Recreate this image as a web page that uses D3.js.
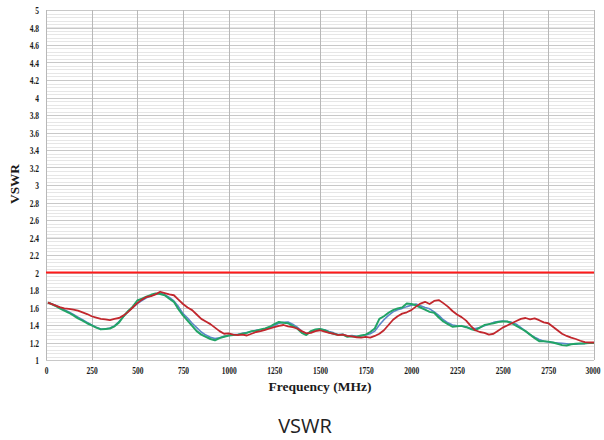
<!DOCTYPE html>
<html><head><meta charset="utf-8">
<script src="https://cdn.jsdelivr.net/npm/d3@7/dist/d3.min.js"></script>
<style>body{margin:0;background:#fff}svg{display:block}
.serif{font-family:"Liberation Serif","DejaVu Serif",serif;font-weight:bold}</style>
</head><body>
<script>
const freq = [10,25,50,75,100,125,150,175,200,225,250,275,300,325,350,375,400,425,450,475,500,525,550,575,600,625,650,675,700,725,750,775,800,825,850,875,900,925,950,975,1000,1025,1050,1075,1100,1125,1150,1175,1200,1225,1250,1275,1300,1325,1350,1375,1400,1425,1450,1475,1500,1525,1550,1575,1600,1625,1650,1675,1700,1725,1750,1775,1800,1825,1850,1875,1900,1925,1950,1975,2000,2025,2050,2075,2100,2125,2150,2175,2200,2225,2250,2275,2300,2325,2350,2375,2400,2425,2450,2475,2500,2525,2550,2575,2600,2625,2650,2675,2700,2725,2750,2775,2800,2825,2850,2875,2900,2925,2950,2975,3000];
const redSeries = [1.655,1.645,1.625,1.605,1.59,1.585,1.575,1.565,1.545,1.525,1.50,1.485,1.47,1.465,1.455,1.47,1.48,1.51,1.55,1.60,1.65,1.69,1.72,1.73,1.75,1.78,1.765,1.75,1.74,1.69,1.64,1.60,1.57,1.52,1.47,1.44,1.41,1.37,1.33,1.30,1.305,1.29,1.285,1.29,1.28,1.30,1.32,1.33,1.345,1.36,1.375,1.39,1.40,1.385,1.375,1.36,1.33,1.305,1.31,1.33,1.34,1.325,1.31,1.30,1.285,1.29,1.275,1.27,1.26,1.255,1.265,1.255,1.275,1.30,1.34,1.40,1.46,1.50,1.53,1.545,1.57,1.61,1.645,1.665,1.64,1.675,1.685,1.65,1.61,1.56,1.52,1.49,1.45,1.39,1.34,1.32,1.31,1.29,1.30,1.335,1.37,1.395,1.42,1.445,1.47,1.48,1.465,1.475,1.455,1.43,1.42,1.38,1.34,1.30,1.275,1.255,1.24,1.22,1.205,1.20,1.20];
const blueSeries = [1.655,1.645,1.625,1.60,1.575,1.55,1.52,1.49,1.46,1.43,1.40,1.375,1.355,1.355,1.365,1.39,1.44,1.50,1.555,1.60,1.645,1.68,1.71,1.735,1.755,1.765,1.745,1.715,1.675,1.61,1.53,1.48,1.42,1.37,1.32,1.285,1.26,1.245,1.255,1.27,1.28,1.29,1.29,1.305,1.315,1.325,1.34,1.345,1.355,1.37,1.395,1.42,1.43,1.435,1.41,1.375,1.33,1.30,1.32,1.345,1.35,1.345,1.325,1.31,1.29,1.295,1.275,1.28,1.27,1.275,1.285,1.30,1.33,1.40,1.46,1.51,1.55,1.575,1.59,1.61,1.625,1.64,1.62,1.60,1.585,1.55,1.51,1.46,1.425,1.40,1.39,1.385,1.38,1.36,1.36,1.37,1.39,1.41,1.43,1.44,1.445,1.44,1.43,1.41,1.37,1.33,1.29,1.26,1.235,1.215,1.205,1.20,1.195,1.19,1.185,1.18,1.18,1.185,1.19,1.195,1.195];
const greenSeries = [1.655,1.645,1.62,1.59,1.565,1.54,1.51,1.475,1.45,1.42,1.395,1.37,1.35,1.355,1.36,1.385,1.43,1.50,1.56,1.61,1.68,1.70,1.725,1.745,1.76,1.755,1.74,1.70,1.665,1.58,1.51,1.45,1.39,1.33,1.29,1.265,1.24,1.225,1.25,1.265,1.28,1.285,1.29,1.30,1.31,1.33,1.335,1.35,1.36,1.38,1.41,1.435,1.425,1.42,1.39,1.36,1.31,1.285,1.33,1.35,1.355,1.34,1.315,1.30,1.285,1.29,1.265,1.27,1.265,1.28,1.29,1.32,1.36,1.47,1.50,1.54,1.57,1.59,1.60,1.645,1.64,1.625,1.60,1.575,1.55,1.54,1.485,1.44,1.41,1.38,1.385,1.39,1.375,1.355,1.34,1.37,1.40,1.41,1.42,1.435,1.44,1.44,1.42,1.39,1.36,1.33,1.29,1.25,1.215,1.215,1.21,1.20,1.185,1.17,1.165,1.18,1.185,1.19,1.19,1.195,1.195];
const limitValue = 2;
const xTicks = [0,250,500,750,1000,1250,1500,1750,2000,2250,2500,2750,3000];
const yTicks = [1,1.2,1.4,1.6,1.8,2,2.2,2.4,2.6,2.8,3,3.2,3.4,3.6,3.8,4,4.2,4.4,4.6,4.8,5];
const yMinor = [];
for (let i = 0; i <= 100; i++) yMinor.push(1 + i * 0.04);

const W = 604, H = 440;
const svg = d3.select("body").append("svg").attr("width", W).attr("height", H);
const x = d3.scaleLinear().domain([0, 3000]).range([46, 594]);
const y = d3.scaleLinear().domain([1, 5]).range([360, 10]);

function squeeze(sel, k) {
  sel.each(function() {
    const len = this.getComputedTextLength();
    d3.select(this).attr("textLength", len * k).attr("lengthAdjust", "spacingAndGlyphs");
  });
}

const g = svg.append("g");
g.selectAll("line.minor").data(yMinor).join("line")
  .attr("x1", x(0)).attr("x2", x(3000))
  .attr("y1", d => Math.round(y(d)) + 0.5).attr("y2", d => Math.round(y(d)) + 0.5)
  .attr("stroke", "#e6e6e6").attr("stroke-width", 1);
g.selectAll("line.major").data(yTicks).join("line")
  .attr("x1", x(0)).attr("x2", x(3000))
  .attr("y1", d => Math.round(y(d)) + 0.5).attr("y2", d => Math.round(y(d)) + 0.5)
  .attr("stroke", "#c8c8c8").attr("stroke-width", 1);
g.selectAll("line.vert").data(xTicks).join("line")
  .attr("x1", d => Math.round(x(d)) + 0.5).attr("x2", d => Math.round(x(d)) + 0.5)
  .attr("y1", y(5)).attr("y2", y(1))
  .attr("stroke", "#b8b8b8").attr("stroke-width", 1);

const xAxis = d3.axisBottom(x).tickValues(xTicks).tickSize(0).tickPadding(6).tickFormat(d3.format("d"));
const gx = svg.append("g").attr("transform", `translate(0,${y(1)})`).call(xAxis);
gx.select(".domain").remove();
gx.attr("font-family", null).attr("font-size", null);
gx.selectAll("text").attr("class", "serif").style("font-size", "11px").attr("fill", "#1a1a1a").call(squeeze, 0.68);
gx.selectAll(".tick").filter(d => d === 3000).select("text").attr("text-anchor", "end").attr("x", 6);

const yAxis = d3.axisLeft(y).tickValues(yTicks).tickSize(0).tickPadding(7).tickFormat(d => String(+d.toFixed(1)));
const gy = svg.append("g").attr("transform", `translate(${x(0)},0)`).call(yAxis);
gy.select(".domain").remove();
gy.attr("font-family", null).attr("font-size", null);
gy.selectAll("text").attr("class", "serif").style("font-size", "11px").attr("fill", "#1a1a1a").call(squeeze, 0.68);

svg.append("line").attr("x1", x(0)).attr("x2", x(3000))
  .attr("y1", y(limitValue)).attr("y2", y(limitValue))
  .attr("stroke", "#ff1a1a").attr("stroke-width", 2);

const line = d3.line().x((d, i) => x(freq[i])).y(d => y(d));
const series = [
  {vals: blueSeries, color: "#5a86c8", w: 1.6},
  {vals: greenSeries, color: "#22a466", w: 2},
  {vals: redSeries, color: "#c1272d", w: 1.8}
];
svg.selectAll("path.s").data(series).join("path")
  .attr("d", d => line(d.vals)).attr("fill", "none")
  .attr("stroke", d => d.color).attr("stroke-width", d => d.w)
  .attr("stroke-linejoin", "round");

svg.append("text").attr("x", 320).attr("y", 391).attr("text-anchor", "middle")
  .attr("class", "serif").style("font-size", "13px").attr("fill", "#1a1a1a")
  .attr("textLength", 103).attr("lengthAdjust", "spacingAndGlyphs")
  .text("Frequency (MHz)");
svg.append("text").attr("transform", "translate(19,184) rotate(-90)").attr("text-anchor", "middle")
  .attr("class", "serif").style("font-size", "13px").attr("fill", "#1a1a1a")
  .attr("textLength", 40).attr("lengthAdjust", "spacingAndGlyphs")
  .text("VSWR");
svg.append("text").attr("x", 305).attr("y", 433).attr("text-anchor", "middle")
  .style("font-family", "'Open Sans','Noto Sans',sans-serif").style("font-size", "20px").attr("fill", "#222")
  .text("VSWR");
</script>
</body></html>
